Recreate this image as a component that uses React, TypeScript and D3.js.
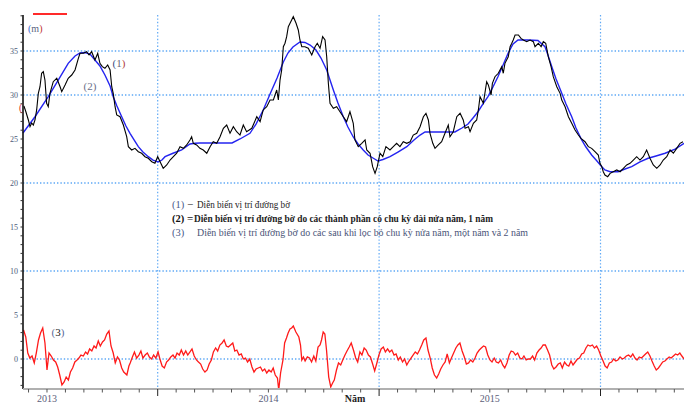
import React from 'react';
import * as d3 from 'd3';

// time axis: months since January 2013
const monthsBlack = [-1.25,-1.14,-1.01,-0.92,-0.83,-0.74,-0.65,-0.56,-0.47,-0.38,-0.29,-0.2,-0.11,-0.02,0.07,0.16,0.34,0.53,0.71,0.8,0.98,1.15,1.34,1.52,1.7,1.79,1.97,2.15,2.28,2.42,2.6,2.75,2.87,3.0,3.14,3.29,3.42,3.51,3.59,3.69,3.78,3.96,4.14,4.32,4.41,4.59,4.77,4.95,5.13,5.31,5.49,5.68,5.85,6.0,6.13,6.3,6.49,6.67,6.85,7.03,7.21,7.39,7.57,7.75,7.84,7.93,8.11,8.29,8.47,8.66,8.84,9.01,9.2,9.38,9.56,9.74,9.92,10.1,10.28,10.46,10.64,10.82,11.1,11.37,11.55,11.72,11.91,12.09,12.27,12.45,12.54,12.63,12.72,12.81,12.9,12.99,13.08,13.26,13.35,13.5,13.62,13.71,13.81,13.98,14.16,14.35,14.53,14.65,14.8,14.94,15.07,15.16,15.25,15.34,15.52,15.7,15.88,16.06,16.24,16.42,16.6,16.69,16.87,17.06,17.24,17.33,17.51,17.65,17.78,17.9,18.05,18.2,18.37,18.59,18.77,18.95,19.13,19.31,19.5,19.68,19.85,20.04,20.22,20.4,20.54,20.67,20.76,20.91,21.03,21.21,21.39,21.57,21.75,21.84,22.02,22.21,22.39,22.56,22.66,22.84,22.93,23.11,23.29,23.38,23.47,23.56,23.65,23.83,23.92,24.07,24.14,24.28,24.46,24.65,24.73,24.82,25.0,25.1,25.19,25.27,25.37,25.55,25.69,25.82,26.0,26.18,26.36,26.45,26.63,26.78,26.9,27.03,27.17,27.32,27.44,27.63,27.81,27.9,28.08,28.26,28.44,28.62,28.8,28.94,29.16,29.34,29.52,29.7,29.88,29.97,30.07,30.15,30.24,30.39,30.52,30.69,30.88,31.06,31.24,31.42,31.6,31.78,31.96,32.14,32.32,32.5,32.68,32.86,33.05,33.23,33.4,33.59,33.77,33.95,34.13,34.31,34.47];
const shorelineBlack = [28.75,28.07,27.16,26.4,26.82,26.59,27.16,28.3,30.19,30.94,32.47,32.65,31.7,29.06,28.67,30.19,31.51,31.9,30.94,30.38,31.14,31.9,32.27,32.84,34.17,34.74,34.74,34.92,34.55,34.92,33.98,34.74,33.6,33.22,33.03,33.41,32.84,30.94,30.19,28.67,27.73,27.53,26.59,25.26,24.13,23.75,23.94,23.56,23.38,22.99,22.81,22.42,22.24,22.99,22.42,21.67,22.05,22.61,22.99,23.38,24.13,23.94,24.32,24.89,25.26,24.51,24.32,23.94,23.75,23.38,24.13,24.69,24.51,25.26,26.22,26.59,25.65,26.4,25.83,25.45,26.59,25.83,26.22,27.53,26.97,28.3,28.67,29.43,29.43,30.57,29.43,31.7,32.84,35.49,35.88,36.63,37.76,38.52,38.9,38.15,37.39,36.25,35.49,35.49,35.31,34.55,35.49,35.88,35.31,36.63,36.25,34.35,31.33,29.06,28.49,28.67,28.1,27.53,26.97,28.1,26.78,24.89,24.13,24.51,24.89,23.75,23.38,21.85,21.1,21.85,23.38,22.99,24.13,23.75,24.13,24.51,24.13,24.69,24.51,24.69,25.45,25.65,26.4,27.53,27.92,27.16,25.65,24.51,23.94,24.32,24.69,25.65,26.59,25.26,25.83,27.53,27.92,27.16,26.22,26.4,25.83,26.78,27.16,28.3,29.81,29.43,29.06,31.51,31.14,30.0,31.33,32.08,32.47,33.22,32.47,33.6,34.35,35.49,35.88,36.25,36.82,36.82,36.44,36.25,36.06,36.25,36.06,35.49,35.88,35.49,36.06,35.88,34.35,33.22,32.08,30.94,30.19,29.43,28.67,27.53,26.78,26.02,25.45,25.08,24.69,24.13,23.94,23.56,23.18,22.24,21.85,21.28,20.91,20.72,21.1,21.28,21.48,21.28,21.67,22.05,22.24,22.61,22.99,22.61,22.99,23.75,22.81,22.05,21.67,22.05,22.61,22.99,23.75,23.38,23.94,24.51,24.69];

const monthsBlue = [-1.3,-0.65,0.07,0.61,1.15,1.52,1.79,2.06,2.33,2.6,2.87,3.14,3.42,3.59,3.79,4.05,4.28,4.5,4.72,4.95,5.2,5.49,5.75,6.02,6.23,6.4,6.83,7.3,7.75,8.02,8.29,10.03,10.46,11.0,11.33,11.72,12.09,12.47,12.81,13.06,13.33,13.71,13.98,14.26,14.58,14.85,15.16,15.52,15.77,16.06,16.31,16.6,16.86,17.14,17.4,17.69,17.94,18.21,18.59,19.02,19.5,19.89,20.22,20.49,22.11,22.49,22.82,23.09,23.36,23.63,23.9,24.17,24.44,24.72,24.99,25.26,25.53,26.07,26.61,26.99,27.15,27.36,27.59,27.9,28.13,28.44,28.67,28.98,29.21,29.52,29.76,30.07,30.24,30.52,30.95,31.33,31.69,32.14,32.58,33.01,33.5,34.04,34.53];
const shorelineBlue = [25.68,27.53,29.81,31.7,33.6,34.43,34.77,34.83,34.66,33.98,33.3,32.27,31.02,29.81,28.75,27.53,26.48,25.65,24.89,24.13,23.52,22.99,22.61,22.39,22.61,22.99,23.38,23.75,24.43,24.51,24.55,24.55,25.0,25.65,26.7,28.3,30.11,31.93,33.75,34.77,35.45,36.02,35.97,35.68,35.11,34.2,32.84,30.57,29.09,27.53,26.36,25.23,24.43,23.75,23.18,22.81,22.5,22.67,22.99,23.52,24.13,24.89,25.45,25.8,25.8,26.25,26.7,27.39,28.1,28.98,29.81,30.91,32.08,33.41,34.74,35.8,36.25,36.25,36.19,35.49,34.55,33.22,31.82,30.19,28.98,27.53,26.25,24.89,24.09,23.18,22.61,21.85,21.48,21.28,21.28,21.59,21.85,22.39,22.81,23.07,23.38,23.86,24.51];

const monthsRed = [-1.27,-1.15,-1.04,-0.93,-0.81,-0.69,-0.58,-0.46,-0.35,-0.23,-0.11,0,0.11,0.23,0.35,0.47,0.58,0.69,0.81,0.93,1.04,1.16,1.27,1.39,1.51,1.63,1.73,1.84,1.97,2.09,2.2,2.31,2.43,2.55,2.66,2.78,2.89,3.01,3.12,3.24,3.36,3.47,3.59,3.7,3.82,3.93,4.05,4.16,4.33,4.44,4.51,4.63,4.74,4.86,4.98,5.09,5.2,5.32,5.44,5.55,5.67,5.78,5.9,6.02,6.12,6.24,6.36,6.48,6.59,6.71,6.83,6.94,7.05,7.17,7.28,7.4,7.52,7.63,7.75,7.86,7.98,8.1,8.21,8.33,8.44,8.56,8.68,8.79,8.91,9.02,9.14,9.25,9.37,9.49,9.6,9.72,9.83,9.95,10.07,10.18,10.29,10.41,10.53,10.64,10.76,10.87,10.99,11.11,11.22,11.33,11.45,11.57,11.68,11.8,11.91,12.03,12.15,12.26,12.37,12.49,12.56,12.66,12.79,12.88,12.98,13.07,13.17,13.26,13.35,13.49,13.65,13.74,13.81,13.9,13.99,14.11,14.23,14.34,14.46,14.57,14.69,14.8,14.88,14.97,15.06,15.15,15.27,15.38,15.48,15.57,15.69,15.8,15.92,16.03,16.15,16.26,16.38,16.49,16.61,16.73,16.84,16.96,17.07,17.19,17.3,17.42,17.53,17.65,17.76,17.88,17.99,18.11,18.23,18.34,18.46,18.57,18.69,18.81,18.92,19.04,19.15,19.27,19.38,19.5,19.62,19.73,19.84,19.96,20.08,20.19,20.31,20.42,20.54,20.65,20.77,20.88,21.0,21.12,21.23,21.34,21.46,21.58,21.69,21.81,21.92,22.04,22.16,22.27,22.38,22.5,22.62,22.73,22.85,22.96,23.08,23.2,23.31,23.43,23.54,23.66,23.77,23.89,24.01,24.12,24.24,24.35,24.47,24.59,24.7,24.81,24.93,25.05,25.16,25.28,25.39,25.51,25.63,25.74,25.85,25.97,26.09,26.2,26.32,26.43,26.55,26.67,26.78,26.89,27.01,27.13,27.24,27.36,27.47,27.59,27.71,27.82,27.93,28.05,28.17,28.28,28.4,28.51,28.63,28.75,28.86,28.98,29.09,29.21,29.32,29.44,29.56,29.67,29.79,29.9,30.02,30.14,30.25,30.36,30.48,30.6,30.71,30.83,30.94,31.06,31.18,31.29,31.4,31.52,31.64,31.75,31.87,31.98,32.1,32.22,32.33,32.44,32.56,32.68,32.79,32.91,33.02,33.14,33.26,33.37,33.49,33.6,33.72,33.83,33.95,34.07,34.18,34.3,34.41,34.53];
const residualRed = [3.3,2.5,0.68,0.11,0.34,-0.45,0.68,2.16,2.95,3.52,1.82,-1.25,0.68,0.34,-0.11,-0.34,-0.91,-1.82,-2.95,-2.61,-2.05,-2.39,-1.48,-1.02,-0.34,-0.11,0.11,0.45,0.34,0.8,0.57,1.14,0.91,1.48,1.25,2.05,1.48,1.93,2.16,2.84,3.18,1.48,0.68,-0.45,0.23,-0.11,-1.02,-1.48,-1.82,-0.8,-0.45,0.23,0.8,0.11,0.45,0.91,0.11,0.45,0.68,0.23,0,0.45,0.11,0.8,0,-0.8,-1.02,-0.34,-0.11,0.23,0.45,0.11,0.68,0.45,1.02,0.45,0.91,0.45,0.8,1.14,0.34,-0.11,-0.34,-0.57,-1.14,-1.48,-1.25,-0.57,-0.11,0.8,1.25,0.91,1.59,1.82,2.16,1.48,1.36,1.59,1.82,0.91,1.02,0.45,0.57,0,0.11,-0.34,0,-0.91,-1.48,-1.14,-1.02,-0.91,-1.36,-1.14,-1.59,-1.25,-1.48,-1.02,-1.82,-2.16,-3.52,-1.59,-0.11,1.82,2.39,2.95,3.41,3.52,3.75,3.07,2.5,1.59,-0.11,0.23,-0.23,0.23,0.11,-0.34,0.34,-0.23,1.36,1.59,2.16,3.07,2.84,1.02,-2.05,-3.18,-2.73,-2.39,-1.25,-0.45,-0.68,-0.11,0.45,0.91,1.36,1.82,1.02,0.11,-0.34,0.8,0.45,1.25,1.02,0.45,0.23,-0.57,-1.36,-0.45,0.45,1.14,1.36,0.8,1.14,0.8,1.02,0.45,0.57,-0.11,0.23,-0.34,0,-0.68,-0.23,0.11,0.45,0.8,0.57,1.02,1.59,2.16,2.39,1.02,0.11,-1.02,-1.82,-2.16,-1.7,-1.14,-0.68,-0.34,0.57,-0.45,0.11,0.68,1.25,1.59,1.82,0.91,0.23,-0.57,-0.45,-0.11,-0.34,0.11,0.68,1.02,1.25,1.48,1.36,0.45,-0.11,-0.34,0.11,-0.34,-0.45,-0.11,-0.68,-1.02,-0.45,0.45,0.91,0.8,0.45,0.68,0.11,0,0.34,-0.11,0,0,0.34,-0.11,0.68,1.02,1.25,1.59,1.59,1.02,0.45,-0.68,-1.14,-0.91,-0.57,-0.45,-1.02,-0.34,-0.68,-0.8,-0.23,-0.68,-0.34,0,0.11,0.57,0.68,1.25,1.59,1.48,1.59,1.25,1.48,1.02,0.34,-0.23,-0.8,-1.02,-0.45,-0.34,0,-0.23,-0.11,0.23,0,0.11,0.34,0.45,0.23,0.57,0.11,-0.11,0.23,0.11,0.34,0.57,0.8,0.34,-0.23,-0.8,-1.25,-1.02,-0.68,-0.34,-0.23,0,0.23,0.11,0.34,0.57,0.45,0.68,0.34,0];

const yLabelValues = [0, 5, 10, 15, 20, 25, 30, 35];
const yGridValues = [0, 10, 20, 30, 35];
const yMinorValues = d3.range(-3, 40, 1);
const monthTicks = d3.range(-1, 35, 1);
const midYearMonths = [6, 18, 30];
const yearLabels = [
  { month: 0, label: '2013' },
  { month: 12, label: '2014' },
  { month: 24, label: '2015' },
];
const axisTitleMonth = 16.7;
const legendKeys = ['(1)', '(2)', '(3)'];
const legendSeps = ['−', '=', ''];
const legendTexts = [
  'Diễn biến vị trí đường bờ',
  'Diễn biến vị trí đường bờ do các thành phần có chu kỳ dài nửa năm, 1 năm',
  'Diễn biến vị trí đường bờ do các sau khi lọc bỏ chu kỳ nửa năm, một năm và 2 năm',
];

const W = 684;
const H = 403;
const LEFT = 23;
const RIGHT = 684;
const TOP = 15;
const BOTTOM = 389;
const GRID = '#5ea8f5';
const SERIF = '"Liberation Serif", "Times New Roman", "DejaVu Serif", serif';

export default function App() {
  const x = d3.scaleLinear().domain([-1.3, 34.525]).range([LEFT, RIGHT]);
  const y = d3.scaleLinear().domain([0, 35]).range([359, 51]);
  const path = (ms: number[], vs: number[]) =>
    d3.line<number>().x((_, i) => x(ms[i])).y((v) => y(v))(vs) || '';

  const legendWidths = [93, 301, 331];
  const legendTextX = [197, 192, 197];

  return (
    <svg
      width={W}
      height={H}
      style={{ position: 'absolute', left: 0, top: 0, background: '#fff', fontFamily: SERIF }}
    >
      <rect width={W} height={H} fill="#fff" />
      {yGridValues.map((v) => (
        <line key={'hg' + v} x1={LEFT} x2={RIGHT} y1={y(v)} y2={y(v)} stroke={GRID} strokeWidth={1.4} strokeDasharray="1.4 2" />
      ))}
      {midYearMonths.map((m) => (
        <line key={'vg' + m} x1={x(m)} x2={x(m)} y1={TOP} y2={BOTTOM} stroke={GRID} strokeWidth={1.2} strokeDasharray="1.4 2" />
      ))}
      <line x1={33} x2={67} y1={14} y2={14} stroke="#ff2a2a" strokeWidth={2.2} />
      <path d={path(monthsBlue, shorelineBlue)} fill="none" stroke="#2424f0" strokeWidth={1.4} />
      <path d={path(monthsBlack, shorelineBlack)} fill="none" stroke="#000" strokeWidth={1.1} />
      <path d={path(monthsRed, residualRed)} fill="none" stroke="#ff1a1a" strokeWidth={1.3} />
      <line x1={LEFT} x2={LEFT} y1={TOP} y2={BOTTOM} stroke="#111" strokeWidth={1.6} />
      {yMinorValues.map((v) => (
        <line key={'ym' + v} x1={LEFT - 2.5} x2={LEFT} y1={y(v)} y2={y(v)} stroke="#333" strokeWidth={1} />
      ))}
      {yLabelValues.map((v) => (
        <text key={'yl' + v} x={18} y={y(v) + 3} fontSize={8} textAnchor="end" fill="#4c5a78">{v}</text>
      ))}
      <text x={28} y={32} fontSize={10}>
        <tspan fill="#3a6ad0">(</tspan>
        <tspan fill="#5a6480">m</tspan>
        <tspan fill="#c03030">)</tspan>
      </text>
      <line x1={LEFT} x2={RIGHT} y1={BOTTOM} y2={BOTTOM} stroke="#b0b0b0" strokeWidth={2} />
      {monthTicks.map((m) => (
        <line
          key={'xt' + m}
          x1={x(m)}
          x2={x(m)}
          y1={BOTTOM}
          y2={BOTTOM + (midYearMonths.includes(m) ? 7 : 3.5)}
          stroke={midYearMonths.includes(m) ? '#222' : '#555'}
          strokeWidth={1}
        />
      ))}
      {yearLabels.map((d) => (
        <text key={d.label} x={x(d.month)} y={402} fontSize={10} textAnchor="middle" fill="#5b5e7a">{d.label}</text>
      ))}
      <text x={x(axisTitleMonth)} y={402} fontSize={10} fontWeight="bold" textAnchor="middle" fill="#222">Năm</text>
      <text x={119} y={67} fontSize={11} textAnchor="middle">
        <tspan fill="#3a4a80">(</tspan><tspan fill="#6a6a7a">1</tspan><tspan fill="#b04040">)</tspan>
      </text>
      <text x={90} y={90} fontSize={11} textAnchor="middle" fill="#6a6e8a">(2)</text>
      <text x={58} y={336} fontSize={11} textAnchor="middle">
        <tspan fill="#5a6a9a">(</tspan><tspan fill="#222">3</tspan><tspan fill="#5a6a9a">)</tspan>
      </text>
      <text x={19} y={111} fontSize={10} fill="#e03030">(</text>
      {legendKeys.map((k, i) => (
        <g key={k} fontWeight={i === 1 ? 'bold' : 'normal'}>
          <text x={172} y={208 + i * 14} fontSize={10.5} fill={i === 1 ? '#111' : '#4a5a8a'}>{k}</text>
          <text x={187} y={208 + i * 14} fontSize={11} fill="#222">{legendSeps[i]}</text>
          <text
            x={legendTextX[i] + (i === 1 ? 2 : 0)}
            y={208 + i * 14}
            fontSize={11}
            fill={i === 2 ? '#4a5478' : '#222'}
            textLength={legendWidths[i] - (i === 1 ? 2 : 0)}
            lengthAdjust="spacingAndGlyphs"
          >
            {legendTexts[i]}
          </text>
        </g>
      ))}
    </svg>
  );
}
